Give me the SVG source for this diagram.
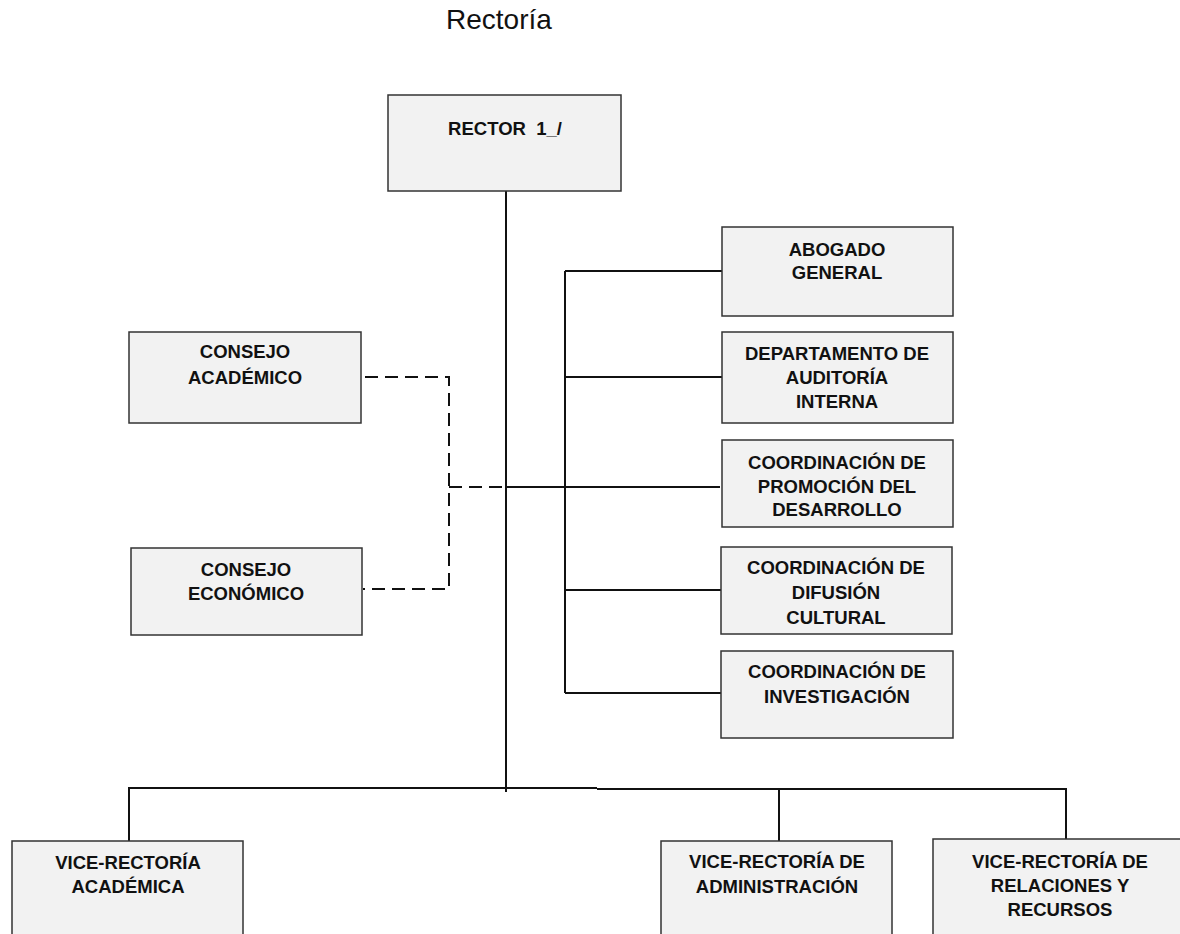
<svg xmlns="http://www.w3.org/2000/svg" width="1180" height="934" viewBox="0 0 1180 934">
<style>
.box{fill:#f2f2f2;stroke:#333;stroke-width:1.5}
.t{font-family:"Liberation Sans",Arial,sans-serif;font-weight:bold;font-size:18.5px;fill:#111;text-anchor:middle}
.title{font-family:"Liberation Sans",Arial,sans-serif;font-size:28px;fill:#111}
.ln{stroke:#111;stroke-width:2;fill:none}
.dash{stroke:#111;stroke-width:2;fill:none;stroke-dasharray:13 7}
</style>
<rect width="1180" height="934" fill="#fff"/>
<text class="title" x="446" y="29">Rectoría</text>
<g id="connectors">
<path class="ln" d="M506 191V792"/>
<path class="ln" d="M506 487H720"/>
<path class="ln" d="M565 271V693"/>
<path class="ln" d="M565 271H722M565 377H722M565 590H721M565 693H721"/>
<path class="dash" d="M365 377H449V589H363"/>
<path class="dash" d="M449 487H506"/>
<path class="ln" d="M129 841V788H597"/>
<path class="ln" d="M597 789H1066V839"/>
<path class="ln" d="M779 789V841"/>
</g>
<g id="rector"><rect class="box" x="388" y="95" width="233" height="96"/><text class="t" x="505" y="135" xml:space="preserve" style="white-space:pre">RECTOR  1_/</text></g>
<g id="consejo-academico"><rect class="box" x="129" y="332" width="232" height="91"/><text class="t" x="245" y="358">CONSEJO</text><text class="t" x="245" y="384">ACADÉMICO</text></g>
<g id="consejo-economico"><rect class="box" x="131" y="548" width="231" height="87"/><text class="t" x="246" y="576">CONSEJO</text><text class="t" x="246" y="600">ECONÓMICO</text></g>
<g id="abogado"><rect class="box" x="722" y="227" width="231" height="89"/><text class="t" x="837" y="256">ABOGADO</text><text class="t" x="837" y="279">GENERAL</text></g>
<g id="auditoria"><rect class="box" x="722" y="332" width="231" height="91"/><text class="t" x="837" y="360">DEPARTAMENTO DE</text><text class="t" x="837" y="384">AUDITORÍA</text><text class="t" x="837" y="408">INTERNA</text></g>
<g id="promocion"><rect class="box" x="722" y="440" width="231" height="87"/><text class="t" x="837" y="469">COORDINACIÓN DE</text><text class="t" x="837" y="493">PROMOCIÓN DEL</text><text class="t" x="837" y="516">DESARROLLO</text></g>
<g id="difusion"><rect class="box" x="721" y="547" width="231" height="87"/><text class="t" x="836" y="574">COORDINACIÓN DE</text><text class="t" x="836" y="599">DIFUSIÓN</text><text class="t" x="836" y="624">CULTURAL</text></g>
<g id="investigacion"><rect class="box" x="721" y="651" width="232" height="87"/><text class="t" x="837" y="678">COORDINACIÓN DE</text><text class="t" x="837" y="703">INVESTIGACIÓN</text></g>
<g id="vr-academica"><rect class="box" x="12" y="841" width="231" height="120"/><text class="t" x="128" y="869">VICE-RECTORÍA</text><text class="t" x="128" y="893">ACADÉMICA</text></g>
<g id="vr-administracion"><rect class="box" x="661" y="841" width="231" height="120"/><text class="t" x="777" y="868">VICE-RECTORÍA DE</text><text class="t" x="777" y="893">ADMINISTRACIÓN</text></g>
<g id="vr-relaciones"><rect class="box" x="933" y="839" width="260" height="120"/><text class="t" x="1060" y="868">VICE-RECTORÍA DE</text><text class="t" x="1060" y="892">RELACIONES Y</text><text class="t" x="1060" y="916">RECURSOS</text></g>
</svg>
